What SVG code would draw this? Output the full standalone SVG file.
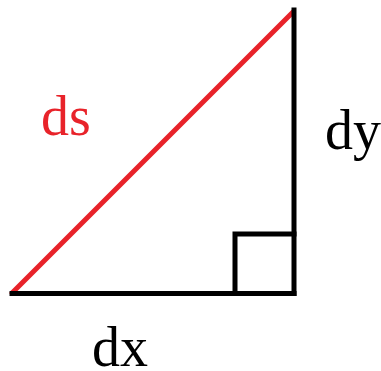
<svg xmlns="http://www.w3.org/2000/svg" width="381" height="371" viewBox="0 0 381 371">
<style>
.k{stroke:#000;stroke-width:5;fill:none;stroke-linecap:square}
.r{stroke:#e8232a;stroke-width:5;fill:none;stroke-linecap:round}
.t{font-family:"Liberation Serif","Times New Roman",serif;font-size:56px}
</style>
<rect width="381" height="371" fill="#fff"/>
<g id="connectors">
<line class="r" x1="12" y1="293" x2="293" y2="12"/>
<line class="k" x1="12" y1="293.5" x2="294" y2="293.5"/>
<line class="k" x1="294" y1="10" x2="294" y2="293.5"/>
<polyline class="k" points="235,293.5 235,234 294,234"/>
</g>
<g id="ds"><text class="t" x="41" y="135" fill="#e8232a">ds</text></g>
<g id="dy"><text class="t" x="325" y="149" fill="#000">dy</text></g>
<g id="dx"><text class="t" x="92" y="366" fill="#000">dx</text></g>
</svg>
